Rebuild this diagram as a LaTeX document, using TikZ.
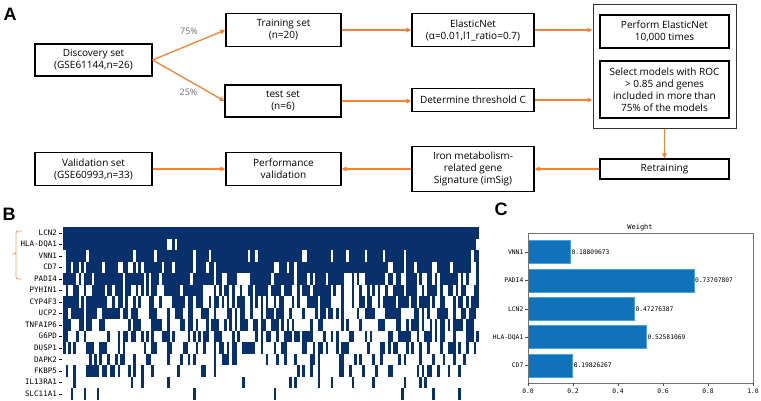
\documentclass[tikz,border=0pt]{standalone}
\usepackage{fontspec}
\usepackage{tikz}
\usetikzlibrary{positioning,arrows.meta,fit}
\setmainfont{Open Sans}
\newfontfamily\letterfont{Liberation Sans}
\newfontfamily\genefont{DejaVu Sans Mono}
\definecolor{flow}{RGB}{245,130,50}
\definecolor{heat}{RGB}{8,48,107}
\definecolor{bar}{RGB}{16,114,186}
\definecolor{baredge}{RGB}{70,165,225}
\definecolor{pct}{RGB}{110,110,110}
\begin{document}
\begin{tikzpicture}[x=1pt,y=-1pt,
    box/.style={draw=black, line width=1.2pt, align=center, inner sep=1pt,
                font=\fontsize{10}{12}\selectfont},
    flowarrow/.style={-{Triangle[length=5pt,width=4.5pt]}, flow, line width=1.3pt},
    panel/.style={font=\letterfont\bfseries\fontsize{18}{18}\selectfont},
    percent/.style={font=\fontsize{9}{10}\selectfont, text=pct},
    genelabel/.style={anchor=east, inner sep=0pt, font=\genefont\fontsize{7.5}{8}\selectfont},
    chartlabel/.style={inner sep=0pt, font=\genefont\fontsize{6.3}{7}\selectfont},
]
\useasboundingbox (0,0) rectangle (761,400);

\node[panel] (labelA) at (10,14.5) {A};
\node[panel] (labelB) at (9,214.5) {B};
\node[panel] (labelC) at (501,209) {C};

\node[box, minimum width=117pt, minimum height=32pt] (discovery) at (93.5,60) {Discovery set\\(GSE61144,n=26)};
\node[box, minimum width=115pt, minimum height=33pt] (training) at (283.5,30) {Training set\\(n=20)};
\node[box, minimum width=116pt, minimum height=32pt] (test) at (283,101) {test set\\(n=6)};
\node[box, minimum width=122pt, minimum height=33pt] (elastic) at (473,30) {ElasticNet\\(α=0.01,l1\_ratio=0.7)};
\node[box, minimum width=122pt, minimum height=23pt] (threshold) at (473,100) {Determine threshold C};
\node[box, minimum width=129pt, minimum height=33pt] (perform) at (664.5,31.5) {Perform ElasticNet\\10,000 times};
\node[box, minimum width=129pt, minimum height=57pt] (select) at (664.5,89.5) {Select models with ROC\\\textgreater{} 0.85 and genes\\included in more than\\75\% of the models};
\node[draw=black!80, line width=0.8pt, inner xsep=6.5pt, inner ysep=10pt, fit=(perform)(select)] (repeat) {};
\node[box, minimum width=129pt, minimum height=20pt] (retrain) at (664.5,169) {Retraining};
\node[box, minimum width=122pt, minimum height=45pt] (signature) at (473,169) {Iron metabolism-\\related gene\\Signature (imSig)};
\node[box, minimum width=115pt, minimum height=33pt] (performance) at (283.5,169) {Performance\\validation};
\node[box, minimum width=117pt, minimum height=33pt] (validation) at (93.5,169) {Validation set\\(GSE60993,n=33)};

\draw[flowarrow] (discovery.east) -- (training.west) node[percent, pos=0.5, above=6pt] {75\%};
\draw[flowarrow] (discovery.east) -- (test.west) node[percent, pos=0.5, below=4pt] {25\%};
\draw[flowarrow] (training) -- (elastic);
\draw[flowarrow] (test.east) -- (test.east -| threshold.west);
\draw[flowarrow] (elastic.east) -- (elastic.east -| repeat.west);
\draw[flowarrow] (threshold.east) -- (threshold.east -| repeat.west);
\draw[flowarrow] (repeat.south -| retrain.north) -- (retrain.north);
\draw[flowarrow] (retrain) -- (signature);
\draw[flowarrow] (signature) -- (performance);
\draw[flowarrow] (validation) -- (performance);

% heatmap
\pgfmathsetseed{2461}
\foreach \gene/\dens [count=\i from 0] in {LCN2/1.01, HLA-DQA1/0.995, VNN1/0.88, CD7/0.84, PADI4/0.74,
    PYHIN1/0.62, CYP4F3/0.52, UCP2/0.46, TNFAIP6/0.42, G6PD/0.36, DUSP1/0.36, DAPK2/0.32,
    FKBP5/0.26, IL13RA1/0.1, SLC11A1/0.06}{
  \node[genelabel] (gene\i) at (57,232.75+11.5*\i) {\gene};
  \draw[line width=0.5pt] (58.5,232.75+11.5*\i) -- (61.5,232.75+11.5*\i);
  \foreach \c in {0,...,159}{
    \pgfmathsetmacro\u{rnd}
    \ifdim\u pt<\dens pt
      \fill[heat] (63+2.6*\c,227+11.5*\i) rectangle ++(2.6,11.5);
    \fi
  }
}
\draw[flow!80!white, line width=0.9pt, rounded corners=2pt] (22,231) -| (16,254) -- (12,254);
\draw[flow!80!white, line width=0.9pt, rounded corners=2pt] (16,253) |- (22,279);

% weights
\node[chartlabel, font=\genefont\fontsize{7}{8}\selectfont] (title) at (640,228) {Weight};
\foreach \gene/\w [count=\i from 0] in {VNN1/0.18809673, PADI4/0.73707807, LCN2/0.47276387,
    HLA-DQA1/0.52581069, CD7/0.19826267}{
  \filldraw[fill=bar, draw=baredge, line width=0.5pt] (528,240.5+28.4*\i) rectangle (528+225*\w,263.5+28.4*\i);
  \node[chartlabel, anchor=west] (value\i) at (529+225*\w,252+28.4*\i) {\w};
  \node[chartlabel, anchor=east] (bargene\i) at (523.5,252+28.4*\i) {\gene};
  \draw[line width=0.4pt, black!70] (525,252+28.4*\i) -- (528,252+28.4*\i);
}
\draw[black!55, line width=0.7pt] (528,233) rectangle (753,383);
\foreach \t [count=\k from 0] in {0.0,0.2,0.4,0.6,0.8,1.0}{
  \draw[line width=0.4pt, black!70] (528+45*\k,383) -- (528+45*\k,386);
  \node[chartlabel] (tick\k) at (528+45*\k,391) {\t};
}
\end{tikzpicture}
\end{document}
